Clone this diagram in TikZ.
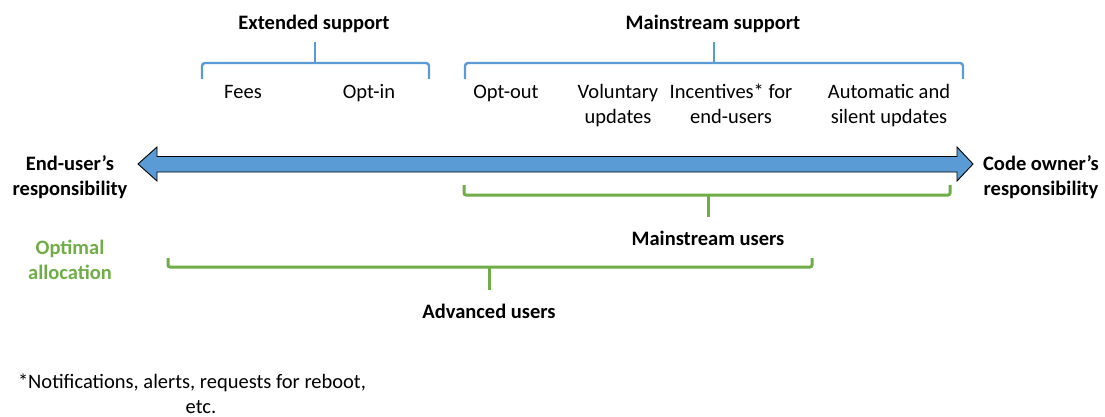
\documentclass[tikz,border=0pt]{standalone}
\usepackage{fontspec}
\setmainfont{Carlito}
\definecolor{arrowblue}{HTML}{5B9BD5}
\definecolor{bracegreen}{HTML}{70AD47}
\tikzset{
  lbl/.style={inner sep=0pt, anchor=base, align=center, font=\fontsize{20.5}{25}\selectfont},
  hdr/.style={lbl, font=\fontsize{20.5}{25}\selectfont\bfseries},
  greenhdr/.style={hdr, text=bracegreen},
  bluebrace/.style={draw=arrowblue, line width=2.4pt, rounded corners=3pt},
  bluestem/.style={draw=arrowblue, line width=2.4pt},
  greenbrace/.style={draw=bracegreen, line width=3pt, rounded corners=2pt},
  greenstem/.style={draw=bracegreen, line width=3pt},
  bigarrow/.style={fill=arrowblue, draw=black, line width=0.9pt, line join=miter}
}
\begin{document}
\begin{tikzpicture}[x=1pt, y=-1pt]
\useasboundingbox (0,0) rectangle (1105,417);

% responsibility axis: double-headed block arrow
\draw[bigarrow] (138,164) -- (157,147) -- (157,156.5) -- (957,156.5) -- (957,147)
  -- (973,164) -- (957,181) -- (957,172) -- (157,172) -- (157,181) -- cycle;
\coordinate (axisL) at (138,164);
\coordinate (axisR) at (973,164);

% multi-line labels are placed by the baseline of their last line
\node[hdr] (enduser) at (70,195) {End-user’s\\responsibility};
\node[hdr] (codeowner) at (1041,195) {Code owner’s\\responsibility};
\node[greenhdr] (optimal) at (70,279) {Optimal\\allocation};

% extended support brace
\node[hdr] (extended) at (314,30) {Extended support};
\coordinate (extL) at (202,79);
\coordinate (extR) at (429,79);
\coordinate (extM) at (315,63);
\coordinate (extTip) at (315,42);
\draw[bluebrace] (extL) |- (extM) -| (extR);
\draw[bluestem] (extM) -- (extTip);
\node[lbl] (fees) at (243,99) {Fees};
\node[lbl] (optin) at (369,99) {Opt-in};

% mainstream support brace
\node[hdr] (mainstream) at (713,30) {Mainstream support};
\coordinate (mainL) at (465,79);
\coordinate (mainR) at (963,79);
\coordinate (mainM) at (714,63);
\coordinate (mainTip) at (714,42);
\draw[bluebrace] (mainL) |- (mainM) -| (mainR);
\draw[bluestem] (mainM) -- (mainTip);
\node[lbl] (optout) at (506,99) {Opt-out};
\node[lbl] (voluntary) at (618,124) {Voluntary\\updates};
\node[lbl] (incentives) at (731,124) {Incentives* for\\end-users};
\node[lbl] (automatic) at (889,124) {Automatic and\\silent updates};

% mainstream users bracket
\coordinate (muL) at (464,185);
\coordinate (muR) at (950,185);
\coordinate (muM) at (708,195);
\coordinate (muTip) at (708,217);
\draw[greenbrace] (muL) |- (muM) -| (muR);
\draw[greenstem] (muM) -- (muTip);
\node[hdr] (mainusers) at (708,245) {Mainstream users};

% advanced users bracket
\coordinate (auL) at (168,258);
\coordinate (auR) at (812,258);
\coordinate (auM) at (489,267);
\coordinate (auTip) at (489,290);
\draw[greenbrace] (auL) |- (auM) -| (auR);
\draw[greenstem] (auM) -- (auTip);
\node[hdr] (advusers) at (489,318) {Advanced users};

% footnote
\node[lbl] (footnote) at (192,413) {*Notifications, alerts, requests for reboot,\\\hspace*{18pt}etc.};
\end{tikzpicture}
\end{document}
